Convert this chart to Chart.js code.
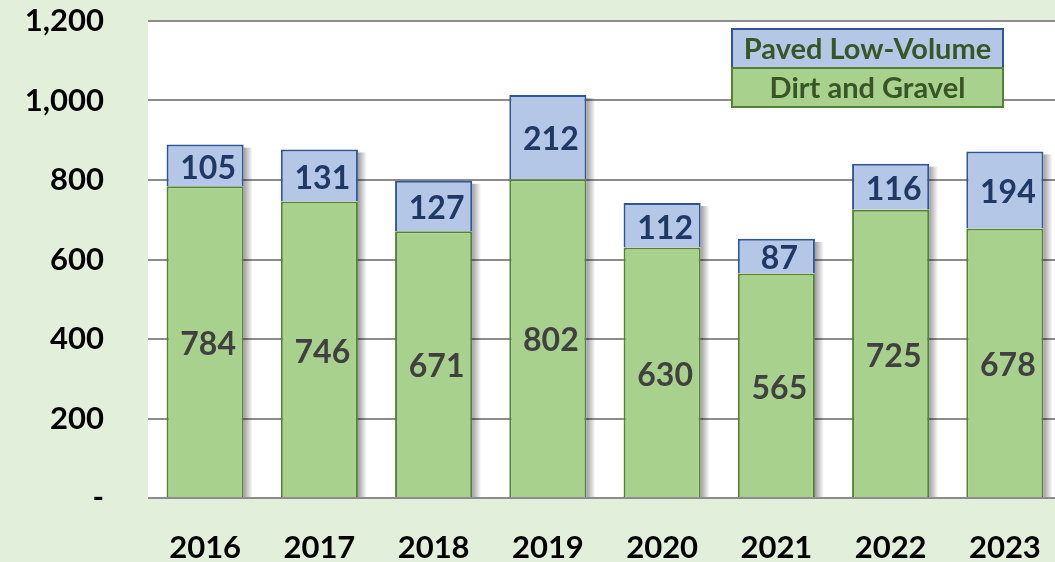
<!DOCTYPE html>
<html lang="en">
<head>
    <meta charset="UTF-8">
    <title>Dirt and Gravel / Paved Low-Volume</title>
    <script src="https://cdn.jsdelivr.net/npm/chart.js"></script>
    <style>
        html, body { margin: 0; padding: 0; background: #e2efda; overflow: hidden; }
        #wrap { width: 1062px; height: 562px; }
    </style>
</head>
<body>
    <div id="wrap">
        <canvas id="roadChart"></canvas>
    </div>
    <script>
        const years = ['2016', '2017', '2018', '2019', '2020', '2021', '2022', '2023'];
        const dirtGravel = [784, 746, 671, 802, 630, 565, 725, 678];
        const pavedLowVolume = [105, 131, 127, 212, 112, 87, 116, 194];
        const yTicks = [0, 200, 400, 600, 800, 1000, 1200];

        const FONT = 'Lato, "Open Sans", sans-serif';

        // white plot area behind the bars
        const plotBg = {
            id: 'plotBg',
            beforeDraw(chart) {
                const a = chart.chartArea, ctx = chart.ctx;
                ctx.save();
                ctx.fillStyle = '#ffffff';
                ctx.fillRect(a.left, a.top, a.right - a.left, a.bottom - a.top);
                ctx.restore();
            }
        };

        // soft shadow to the right of each stacked bar
        const barShadow = {
            id: 'barShadow',
            beforeDatasetsDraw(chart) {
                const ctx = chart.ctx;
                const bottom = chart.getDatasetMeta(0).data;
                const top = chart.getDatasetMeta(chart.data.datasets.length - 1).data;
                ctx.save();
                bottom.forEach((bar, j) => {
                    const x0 = bar.x + bar.width / 2;
                    const g = ctx.createLinearGradient(x0, 0, x0 + 9, 0);
                    g.addColorStop(0, 'rgba(0,0,0,0.38)');
                    g.addColorStop(1, 'rgba(0,0,0,0)');
                    ctx.fillStyle = g;
                    ctx.fillRect(x0, top[j].y + 3, 9, bar.base - top[j].y - 3);
                });
                ctx.restore();
            }
        };

        // value labels centred in each segment
        const segLabels = {
            id: 'segLabels',
            afterDatasetsDraw(chart) {
                const ctx = chart.ctx;
                ctx.save();
                ctx.font = 'bold 32px ' + FONT;
                ctx.textAlign = 'center';
                ctx.textBaseline = 'middle';
                chart.data.datasets.forEach((ds, i) => {
                    const meta = chart.getDatasetMeta(i);
                    ctx.fillStyle = ds.labelColor;
                    meta.data.forEach((bar, j) => {
                        ctx.fillText(ds.data[j], bar.x + 3, (bar.y + bar.base) / 2 + 3);
                    });
                });
                ctx.restore();
            }
        };

        // boxed legend, paved on top of dirt and gravel
        const boxLegend = {
            id: 'boxLegend',
            afterDraw(chart) {
                const ctx = chart.ctx;
                const left = 732, top = 29, w = 271, h = 39;
                const order = [1, 0];
                ctx.save();
                ctx.font = 'bold 29px ' + FONT;
                ctx.textAlign = 'center';
                ctx.textBaseline = 'middle';
                order.forEach((di, k) => {
                    const ds = chart.data.datasets[di];
                    const y = top + k * h;
                    ctx.fillStyle = ds.backgroundColor;
                    ctx.fillRect(left, y, w, h);
                    ctx.strokeStyle = ds.borderColor;
                    ctx.lineWidth = 2;
                    ctx.strokeRect(left, y, w, h);
                    ctx.fillStyle = '#375623';
                    ctx.fillText(ds.label, left + w / 2, y + h / 2 + 1);
                });
                ctx.restore();
            }
        };

        const ctx = document.getElementById('roadChart').getContext('2d');
        new Chart(ctx, {
            type: 'bar',
            data: {
                labels: years,
                datasets: [{
                    label: 'Dirt and Gravel',
                    data: dirtGravel,
                    backgroundColor: '#a9d18e',
                    borderColor: '#548235',
                    borderWidth: 2,
                    labelColor: '#404040'
                }, {
                    label: 'Paved Low-Volume',
                    data: pavedLowVolume,
                    backgroundColor: '#b4c7e7',
                    borderColor: '#2f5597',
                    borderWidth: 2,
                    labelColor: '#1f3864'
                }]
            },
            options: {
                responsive: true,
                maintainAspectRatio: false,
                animation: false,
                layout: { padding: { top: 21, left: 0, right: 0, bottom: 0 } },
                datasets: {
                    bar: { categoryPercentage: 1, barPercentage: 0.675 }
                },
                scales: {
                    x: {
                        stacked: true,
                        grid: { display: false },
                        border: { display: false },
                        ticks: {
                            color: '#000000',
                            font: { family: FONT, size: 31, weight: 'bold' },
                            padding: 23
                        },
                        afterFit(s) {
                            s.height = 64;
                            s.paddingLeft = 0;
                            s.paddingRight = 0;
                        }
                    },
                    y: {
                        stacked: true,
                        min: 0,
                        max: 1200,
                        afterBuildTicks(s) { s.ticks = yTicks.map(v => ({ value: v })); },
                        grid: { color: '#8c8c8c', lineWidth: 2, drawTicks: false },
                        border: { display: false },
                        ticks: {
                            color: '#000000',
                            font: { family: FONT, size: 31, weight: 'bold' },
                            padding: 44,
                            callback: v => v === 0 ? '-' : v.toLocaleString('en-US')
                        },
                        afterFit(s) {
                            s.width = 148;
                            s.paddingTop = 0;
                            s.paddingBottom = 0;
                        }
                    }
                },
                plugins: {
                    legend: { display: false },
                    tooltip: { enabled: false }
                }
            },
            plugins: [plotBg, barShadow, segLabels, boxLegend]
        });
    </script>
</body>
</html>
